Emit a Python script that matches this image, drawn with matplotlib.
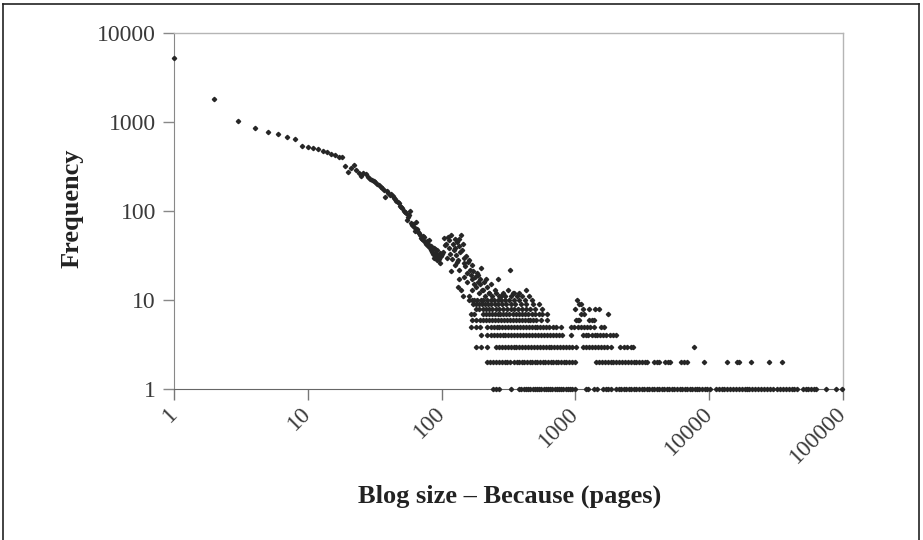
import matplotlib.pyplot as plt
import matplotlib.transforms as mtransforms
from matplotlib.lines import Line2D

# 블로그 크기 분포 (log-log 산점도)

# 앞부분: 크기별 한 점씩
head_x = [1, 2, 3, 4, 5, 6, 7, 8, 9, 10, 11, 12, 13, 14, 15, 16, 17, 18, 19, 20,
          21, 22, 23, 24, 25, 26, 27, 28, 29, 30, 31, 32, 33, 34, 35, 36, 37, 38, 39, 40,
          41, 42, 43, 44, 45, 46, 47, 48, 49, 50, 51, 52, 53, 54, 55, 56, 57, 58, 59, 60,
          61, 62, 63, 64, 65, 66, 67, 68, 69, 70, 71, 72, 73, 74, 75, 76, 77, 78, 79, 80,
          81, 82, 83, 84, 85, 86, 87, 88, 89, 90, 91, 92, 93, 94, 95, 96, 97, 98, 99, 100]
head_y = [5200, 1800, 1030, 860, 780, 740, 670, 645, 540, 518, 506, 493, 478, 460, 437, 429, 407, 400, 320, 272,
          302, 329, 290, 265, 247, 269, 258, 240, 227, 223, 215, 213, 200, 196, 185, 180, 170, 143, 169, 158,
          150, 155, 147, 140, 135, 130, 125, 122, 115, 110, 107, 100, 97, 94, 79, 85, 90, 99, 73, 70,
          72, 66, 60, 76, 63, 61, 58, 56, 54, 50, 48, 47, 52, 51, 45, 44, 43, 46, 40, 47,
          42, 38, 36, 40, 35, 33, 38, 30, 34, 37, 31, 28, 36, 32, 30, 29, 26, 34, 31, 33]

# 중간 흩어진 구간 (x > 100)
mid_x = [102, 104, 106, 108, 110, 111, 113, 114, 116, 118, 118, 120, 121, 123, 125, 126, 127, 129, 130, 131,
         133, 133, 134, 136, 136, 136, 138, 140, 140, 142, 144, 144, 146, 148, 148, 150, 152, 154, 156, 158,
         161, 161, 164, 166, 168, 170, 170, 173, 175, 178, 180, 183, 186, 188, 190, 192, 195, 198, 200, 203,
         207, 210, 215, 220, 225, 228, 232, 240, 250, 255, 263, 270, 278, 290, 300, 312, 322, 330, 340, 350,
         365, 380, 400, 425, 450]
mid_y = [35, 50, 41, 43, 30, 51, 38, 47, 33, 54, 21, 29, 43, 36, 38, 48, 25, 32, 45, 27,
         28, 14, 40, 49, 22, 17, 35, 54, 13, 36, 43, 11, 30, 26, 18, 24, 31, 20, 16, 27,
         28, 11, 22, 19, 25, 17, 13, 21, 15, 18, 14, 20, 19, 16, 12, 15, 17, 23, 13, 13,
         16, 11, 17, 14, 12, 12, 15, 11, 13, 12, 17, 11, 11, 12, 11, 13, 22, 11, 12, 12,
         11, 12, 11, 13, 11]

# 정수 빈도 층별 x 값
x_f10 = [160, 168, 176, 185, 196, 205, 218, 232, 245, 262, 280, 300, 320, 345, 380, 420, 470, 1023]
x_f9 = [172, 180, 190, 200, 210, 222, 235, 250, 265, 285, 305, 330, 355, 390, 430, 480, 530, 1070, 1100]
x_f8 = [180, 190, 205, 215, 228, 240, 255, 270, 290, 310, 330, 350, 375, 400, 430, 460, 500, 560,
        1000, 1130, 1270, 1400, 1500]
x_f7 = [167, 175, 205, 215, 226, 238, 250, 262, 275, 290, 305, 320, 340, 360, 380, 400, 420, 445, 470,
        500, 530, 560, 617, 1100, 1160, 1740]
x_f6 = [170, 180, 192, 203, 215, 228, 240, 252, 265, 280, 295, 310, 325, 340, 360, 380, 400, 420, 440,
        460, 485, 510, 557, 617, 1010, 1040, 1070, 1270, 1330, 1380]
x_f5 = [167, 180, 192, 220, 232, 245, 258, 270, 285, 300, 315, 330, 345, 365, 385, 405, 425, 450, 470,
        495, 520, 545, 575, 605, 640, 680, 720, 782, 928, 980, 1040, 1100, 1160, 1220, 1290, 1380, 1550, 1630]
x_f4 = [198, 220, 232, 245, 258, 272, 286, 300, 316, 332, 350, 368, 388, 408, 430, 452, 476, 500, 526,
        555, 585, 615, 650, 685, 720, 760, 800, 928, 1130, 1190, 1250, 1320, 1390, 1460, 1530, 1620,
        1700, 1800, 1900, 2000]
x_f3 = [182, 198, 220, 255, 268, 282, 296, 312, 328, 345, 362, 380, 400, 420, 442, 465, 490, 515, 540,
        570, 600, 630, 660, 695, 730, 770, 810, 850, 900, 950, 1010, 1130, 1200, 1260, 1330, 1400, 1470,
        1550, 1630, 1710, 1830, 2150, 2300, 2450, 2600, 2700, 7700]
x_f2 = [220, 230, 242, 255, 268, 282, 296, 310, 322, 350, 365, 380, 398, 416, 435, 455, 476, 498, 520,
        545, 570, 596, 624, 652, 682, 714, 747, 780, 816, 855, 895, 940, 990, 1430, 1500, 1580, 1660,
        1740, 1830, 1920, 2020, 2120, 2230, 2340, 2460, 2590, 2720, 2860, 3000, 3150, 3300, 3440, 3900,
        4050, 4180, 4700, 4900, 5100, 6200, 6500, 6800, 9200, 13700, 16000, 16700, 20500, 28000, 35300]
x_f1 = [242, 255, 268, 331, 380, 395, 410, 426, 443, 460, 478, 497, 516, 536, 557, 579, 601, 624, 648,
        673, 699, 726, 754, 783, 813, 845, 878, 912, 947, 990, 1200, 1250, 1370, 1450, 1600, 1680, 1760,
        1850, 2010, 2100, 2200, 2300, 2400, 2500, 2620, 2740, 2860, 2990, 3120, 3260, 3400, 3550, 3710,
        3880, 4050, 4230, 4420, 4620, 4830, 5040, 5270, 5500, 5750, 6010, 6280, 6560, 6850, 7150, 7470,
        7800, 8150, 8420, 8900, 9300, 9700, 10200, 11200, 11800, 12400, 13000, 13700, 14400, 15100,
        15900, 16700, 17500, 18400, 19300, 19900, 21000, 22100, 23200, 24400, 25600, 26900, 28300,
        29800, 32300, 33900, 35600, 37400, 39300, 41300, 43400, 45600, 50000, 52500, 55100, 57900,
        60500, 62500, 74300, 88200, 98000]

x_ticks = [1, 10, 100, 1000, 10000, 100000]
x_labels = ['1', '10', '100', '1000', '10000', '100000']
y_ticks = [1, 10, 100, 1000, 10000]
y_labels = ['1', '10', '100', '1000', '10000']

# 모든 점 모으기
xs = head_x + mid_x
ys = head_y + mid_y
levels = [(10, x_f10), (9, x_f9), (8, x_f8), (7, x_f7), (6, x_f6),
          (5, x_f5), (4, x_f4), (3, x_f3), (2, x_f2), (1, x_f1)]
for f, lst in levels:
    xs += lst
    ys += [f] * len(lst)

fig = plt.figure(figsize=(9.23, 5.4), dpi=100)
ax = fig.add_axes([174 / 923, 1 - 389 / 540, (843 - 174) / 923, (389 - 33) / 540])

ax.plot(xs, ys, linestyle='none', marker='D', markersize=2.2,
        color='#262626', clip_on=False, zorder=3)

ax.set_xscale('log')
ax.set_yscale('log')
ax.set_xlim(1, 100000)
ax.set_ylim(1, 10000)
ax.minorticks_off()

serif = ['Liberation Serif', 'DejaVu Serif']
ax.set_xticks(x_ticks)
ax.set_xticklabels(x_labels, rotation=45, ha='right', va='top',
                   rotation_mode='anchor', family=serif, fontsize=17, color='#3a3a3a')
ax.set_yticks(y_ticks)
ax.set_yticklabels(y_labels, family=serif, fontsize=17, color='#3a3a3a')
ax.tick_params(axis='x', direction='out', length=8, width=1, color='#777777', pad=5)
ax.tick_params(axis='y', direction='out', length=8, width=1, color='#888888', pad=5)

# x 눈금 글자를 조금 왼쪽 위로
shift = mtransforms.ScaledTranslation(-7 / 100, 4 / 100, fig.dpi_scale_trans)
for lab in ax.get_xticklabels():
    lab.set_transform(lab.get_transform() + shift)

for side in ['top', 'right']:
    ax.spines[side].set_color('#b5b5b5')
    ax.spines[side].set_linewidth(1)
ax.spines['left'].set_color('#888888')
ax.spines['bottom'].set_color('#666666')

fig.text(72 / 923, 1 - 208 / 540, 'Frequency', rotation=90, ha='center', va='center',
         family=serif, fontsize=19, fontweight='bold', color='#222222')
fig.text(510 / 923, 1 - 496 / 540, 'Blog size \u2013 Because (pages)', ha='center', va='center',
         family=serif, fontsize=19, fontweight='bold', color='#222222')

# 바깥 테두리
for xx, yy in [([3 / 923, 3 / 923], [0, 1 - 4 / 540]),
               ([3 / 923, 919 / 923], [1 - 4 / 540, 1 - 4 / 540]),
               ([919 / 923, 919 / 923], [0, 1 - 4 / 540])]:
    fig.add_artist(Line2D(xx, yy, color='#222222', linewidth=1.2))

fig.savefig('out.png', dpi=100)
